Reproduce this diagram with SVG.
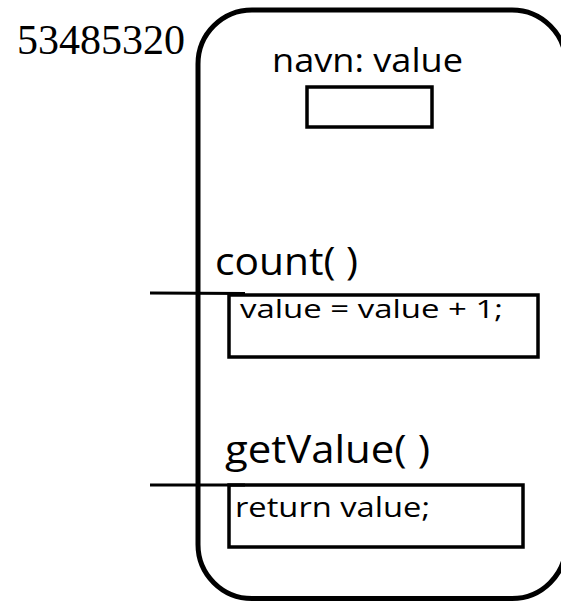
<svg xmlns="http://www.w3.org/2000/svg" width="561" height="604" viewBox="0 0 561 604">
  <style>
    .frame { fill: none; stroke: #000; stroke-width: 5; }
    .box { fill: none; stroke: #000; stroke-width: 3.5; }
    .wire { fill: none; stroke: #000; stroke-width: 3; }
    .label { font-family: "Open Sans", "Liberation Sans", sans-serif; fill: #000; }
    .addr { font-family: "Liberation Serif", "Times New Roman", serif; fill: #000; }
  </style>
  <rect width="561" height="604" fill="#fff"/>

  <!-- object address -->
  <g id="address">
    <text class="addr" x="17" y="54" font-size="42" textLength="168" lengthAdjust="spacingAndGlyphs">53485320</text>
  </g>

  <!-- object body (right side runs past the canvas edge) -->
  <g id="object">
    <rect class="frame" x="198" y="10" width="368" height="588.5" rx="54" ry="54"/>
  </g>

  <!-- field -->
  <g id="field-value">
    <text class="label" x="272" y="72" font-size="33" textLength="191" lengthAdjust="spacingAndGlyphs">navn: value</text>
    <rect class="box" x="307" y="87" width="125" height="40"/>
  </g>

  <!-- method count -->
  <g id="method-count">
    <text class="label" x="215" y="275" font-size="38" textLength="143" lengthAdjust="spacingAndGlyphs">count( )</text>
    <rect class="box" x="229" y="295" width="309" height="62"/>
    <text class="label" x="240" y="318" font-size="26" textLength="263" lengthAdjust="spacingAndGlyphs">value = value + 1;</text>
  </g>

  <!-- method getValue -->
  <g id="method-getValue">
    <text class="label" x="225" y="463" font-size="38" textLength="205" lengthAdjust="spacingAndGlyphs">getValue( )</text>
    <rect class="box" x="229" y="485" width="294" height="62"/>
    <text class="label" x="235" y="517" font-size="28" textLength="195" lengthAdjust="spacingAndGlyphs">return value;</text>
  </g>

  <!-- entry connectors -->
  <g id="connectors">
    <line class="wire" x1="150" y1="293" x2="245" y2="293.5"/>
    <line class="wire" x1="150" y1="485" x2="245" y2="485"/>
  </g>
</svg>
